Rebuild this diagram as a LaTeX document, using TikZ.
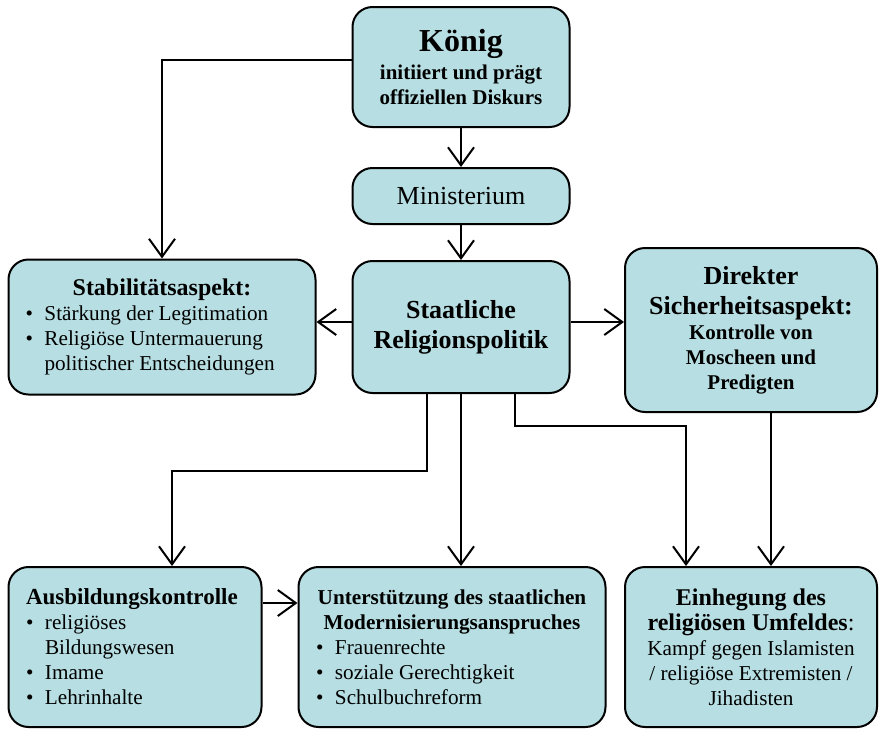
\documentclass[tikz,border=0pt]{standalone}
\usepackage{fontspec}
\setmainfont{Liberation Serif}
\usepackage{tikz}
\usetikzlibrary{positioning, calc, arrows.meta}
\definecolor{cBox}{RGB}{183,222,226}
\setlength{\parindent}{0pt}

\newcommand{\itm}[1]{\par\noindent\hangindent=9.5pt\hangafter=1\makebox[9.5pt][l]{\textbullet}#1\par}

\tikzset{
    box/.style={draw, fill=cBox, rounded corners=10pt, line width=1pt, inner sep=0pt,
                align=flush center, font=\fontsize{10.6}{12.5}\selectfont},
    arr/.style={-{Straight Barb[length=9pt,width=13pt]}, line width=1pt},
}

\begin{document}
\begin{tikzpicture}[node distance=65pt, on grid, thick, x=1pt, y=1pt]
    \useasboundingbox (0,0) rectangle (440,-365);

    \node[box, minimum width=108.5pt, minimum height=66pt, text width=100pt,
          font=\fontsize{13}{15}\selectfont\bfseries] (staat) at (230.5,-163.5) {Staatliche\\Religionspolitik};
    \node[box, minimum width=108.5pt, minimum height=28pt, text width=100pt,
          font=\fontsize{13}{15}\selectfont] (mini) [above=65.5pt of staat] {Ministerium};
    \node[box, minimum width=108.5pt, minimum height=60pt, text width=100pt,
          font=\fontsize{10.5}{12.5}\selectfont\bfseries] (koenig) [above=64.5pt of mini]
          {{\fontsize{16}{19}\selectfont König\par}\vspace{1.5pt}initiiert und prägt\\offiziellen Diskurs};

    \node[box, minimum width=153.5pt, minimum height=67.5pt, text width=136.5pt, align=flush left] (stab) [left=149.5pt of staat]
          {{\centering\fontsize{12}{14}\selectfont\bfseries Stabilitätsaspekt:\par}%
           \itm{Stärkung der Legitimation}\itm{Religiöse Untermauerung\newline politischer Entscheidungen}};
    \node[box, minimum width=126pt, minimum height=82pt, text width=118pt,
          font=\fontsize{10.5}{12.5}\selectfont\bfseries] (sich) [below right=1.5pt and 145pt of staat]
          {{\fontsize{13}{15}\selectfont Direkter\\Sicherheitsaspekt:\par}Kontrolle von\\Moscheen und\\Predigten};

    \node[box, minimum width=153.5pt, minimum height=80pt, text width=136pt, align=flush left] (unter) [below left=160pt and 4.5pt of staat]
          {{\centering\bfseries Unterstützung des staatlichen\\Modernisierungsanspruches\par}%
           \itm{Frauenrechte}\itm{soziale Gerechtigkeit}\itm{Schulbuchreform}};
    \node[box, minimum width=126.5pt, minimum height=80pt, text width=109pt, align=flush left] (ausb) [left=158.5pt of unter]
          {{\fontsize{11.5}{13.5}\selectfont\bfseries Ausbildungskontrolle\par}%
           \itm{religiöses\newline Bildungswesen}\itm{Imame}\itm{Lehrinhalte}};
    \node[box, minimum width=126pt, minimum height=80pt, text width=118pt] (einh) [right=149.5pt of unter]
          {{\fontsize{12}{14}\selectfont\bfseries Einhegung des\\religiösen Umfeldes}{\fontsize{12}{14}\selectfont:}\par
           Kampf gegen Islamisten\\/ religiöse Extremisten /\\Jihadisten};

    % top part
    \draw[arr] ([yshift=3.5pt]koenig.west) -| (stab.north);
    \draw[arr] (koenig) -- (mini);
    \draw[arr] (mini) -- (staat);

    % sideways from the policy
    \coordinate (sl) at ([yshift=2.5pt]staat.west);
    \coordinate (sr) at ([yshift=2.5pt]staat.east);
    \draw[arr] (sl) -- (sl -| stab.east);
    \draw[arr] (sr) -- (sr -| sich.west);

    % down to the lower row
    \draw[arr] ([xshift=-17pt]staat.south) -- ++(0,-38.5) -| ([xshift=18.5pt]ausb.north);
    \draw[arr] (staat.south) -- (staat.south |- unter.north);
    \draw[arr] ([xshift=27pt]staat.south) -- ++(0,-16) -| ([xshift=-32.5pt]einh.north);
    \draw[arr] ([xshift=10pt]sich.south) -- ([xshift=10pt]einh.north);

    \coordinate (al) at ([yshift=22pt]ausb.east);
    \draw[arr] (al) -- (al -| unter.west);
\end{tikzpicture}
\end{document}
